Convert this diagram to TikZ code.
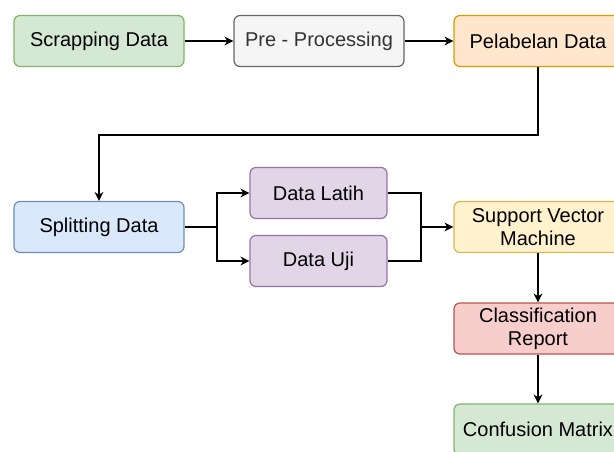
\documentclass[tikz,border=0pt]{standalone}
\usepackage{fontspec}
\setmainfont{Liberation Sans}
\usetikzlibrary{%
  arrows.meta,%
  calc%
}
\definecolor{greenfill}{HTML}{D5E8D4}
\definecolor{greenline}{HTML}{82B366}
\definecolor{grayfill}{HTML}{F5F5F5}
\definecolor{grayline}{HTML}{666666}
\definecolor{graytext}{HTML}{333333}
\definecolor{orangefill}{HTML}{FFE6CC}
\definecolor{orangeline}{HTML}{D79B00}
\definecolor{bluefill}{HTML}{DAE8FC}
\definecolor{blueline}{HTML}{6C8EBF}
\definecolor{purplefill}{HTML}{E1D5E7}
\definecolor{purpleline}{HTML}{9673A6}
\definecolor{yellowfill}{HTML}{FFF2CC}
\definecolor{yellowline}{HTML}{D6B656}
\definecolor{redfill}{HTML}{F8CECC}
\definecolor{redline}{HTML}{B85450}
\tikzset{
  box/.style={draw,rounded corners=6pt,line width=1.2pt,minimum width=170pt,
    minimum height=51pt,align=center,inner sep=2pt,
    font=\fontsize{20}{23}\selectfont},
  arr/.style={-{Stealth[length=9pt,width=9pt]},line width=1.4pt}
}
\begin{document}
\begin{tikzpicture}[x=1pt,y=-1pt]
      \useasboundingbox (0,0) rectangle (614,452);
      \clip (0,0) rectangle (614,452);
      \node[box,fill=greenfill,draw=greenline] (scrap) at (99,41) {Scrapping Data};
      \node[box,fill=grayfill,draw=grayline,text=graytext] (pre) at (319,41) {Pre - Processing};
      \node[box,fill=orangefill,draw=orangeline,minimum width=168pt] (label) at (538,41) {Pelabelan Data};
      \node[box,fill=bluefill,draw=blueline] (split) at (99,227) {Splitting Data};
      \node[box,fill=purplefill,draw=purpleline,minimum width=137pt] (latih) at (318.5,193) {Data Latih};
      \node[box,fill=purplefill,draw=purpleline,minimum width=137pt] (uji) at (318.5,261) {Data Uji};
      \node[box,fill=yellowfill,draw=yellowline,minimum width=168pt] (svm) at (538,227) {Support Vector\\Machine};
      \node[box,fill=redfill,draw=redline,minimum width=168pt] (report) at (538,328.5) {Classification\\Report};
      \node[box,fill=greenfill,draw=greenline,minimum width=168pt] (matrix) at (538,429.5) {Confusion Matrix};
      \coordinate (fork) at (217,227);
      \coordinate (join) at (421,227);
      \draw[arr] (scrap) -- (pre);
      \draw[arr] (pre) -- (label);
      \draw[arr] (label.south) -- ++(0,68) -| (split.north);
      \draw[line width=1.4pt] (split) -- (fork);
      \draw[arr] (fork) |- (latih);
      \draw[arr] (fork) |- (uji);
      \draw[line width=1.4pt] (latih) -| (join) (uji) -| (join);
      \draw[arr] (join) -- (svm);
      \draw[arr] (svm) -- (report);
      \draw[arr] (report) -- (matrix);
    \end{tikzpicture}
\end{document}
